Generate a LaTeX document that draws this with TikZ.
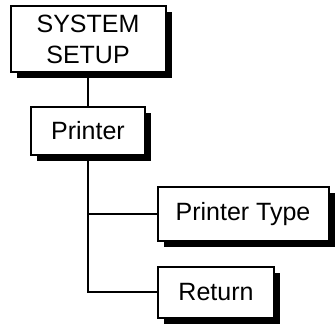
\documentclass[tikz,border=0pt]{standalone}
\usepackage{fontspec}
\setmainfont{Liberation Sans}
\usetikzlibrary{shadows}
\begin{document}
\begin{tikzpicture}[x=1pt,y=-1pt,
  box/.style={draw=black, line width=2pt, fill=white, inner sep=0pt, align=center,
    font=\fontsize{25}{31}\selectfont,
    drop shadow={shadow xshift=6pt, shadow yshift=-6pt, opacity=1, fill=black}},
  conn/.style={line width=2pt}]
\useasboundingbox (0,0) rectangle (335,326);
\node[box, minimum width=155pt, minimum height=66pt] (sys) at (88,39) {SYSTEM\\SETUP};
\node[box, minimum width=114pt, minimum height=48pt] (printer) at (88,131) {Printer};
\node[box, minimum width=171pt, minimum height=54pt] (ptype) at (243,214) {Printer Type};
\node[box, minimum width=116pt, minimum height=51pt] (ret) at (216,292) {Return};
\coordinate (j1) at (printer.south |- ptype.west);
\coordinate (j2) at (printer.south |- ret.west);
\draw[conn] (sys.south) -- (printer.north);
\draw[conn] (printer.south) -- (j2) -- (ret.west);
\draw[conn] (j1) -- (ptype.west);
\end{tikzpicture}
\end{document}
